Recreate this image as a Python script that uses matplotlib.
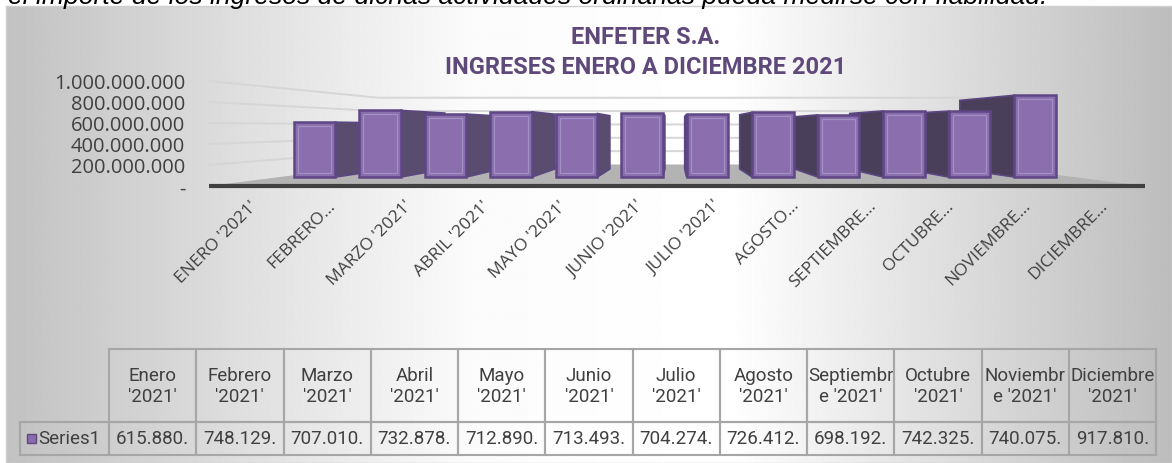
import numpy as np
import matplotlib
matplotlib.use("Agg")
import matplotlib.pyplot as plt
from matplotlib.patches import Polygon, Rectangle
from matplotlib.table import Table
from matplotlib import font_manager

# ---------------- data ----------------
axis_labels = ["ENERO '2021'", "FEBRERO...", "MARZO '2021'", "ABRIL '2021'",
               "MAYO '2021'", "JUNIO '2021'", "JULIO '2021'", "AGOSTO...",
               "SEPTIEMBRE...", "OCTUBRE...", "NOVIEMBRE...", "DICIEMBRE..."]
header_labels = ["Enero\n'2021'", "Febrero\n'2021'", "Marzo\n'2021'", "Abril\n'2021'",
                 "Mayo\n'2021'", "Junio\n'2021'", "Julio\n'2021'", "Agosto\n'2021'",
                 "Septiembr\ne '2021'", "Octubre\n'2021'", "Noviembr\ne '2021'",
                 "Diciembre\n'2021'"]
values = [615880000, 748129000, 707010000, 732878000, 712890000, 713493000,
          704274000, 726412000, 698192000, 742325000, 740075000, 917810000]
series_name = "Series1"
y_ticks = [0, 200000000, 400000000, 600000000, 800000000, 1000000000]
title_lines = ["ENFETER S.A.", "INGRESES ENERO A DICIEMBRE 2021"]
top_text = "el importe de los ingresos de dichas actividades ordinarias pueda medirse con fiabilidad."

# ---------------- fonts ----------------
avail = {f.name for f in font_manager.fontManager.ttflist}
NARROW = "Roboto" if "Roboto" in avail else "Liberation Sans"
LABEL_FONT = "Open Sans" if "Open Sans" in avail else "DejaVu Sans"

W, H, DPI = 1172, 464, 100
fig = plt.figure(figsize=(W / DPI, H / DPI), dpi=DPI)
fig.patch.set_facecolor("white")


def rect(x0, y0, x1, y1):
    return [x0 / W, 1 - y1 / H, (x1 - x0) / W, (y1 - y0) / H]


n = len(values)
YMAX = y_ticks[-1]

# ---------------- background ----------------
bg = fig.add_axes(rect(6, 7, 1172, 464))
xs = np.linspace(0, 1, 900)
g = np.interp(xs, [0, 0.40, 0.62, 1.0], [0.76, 0.985, 1.0, 0.74])
bg.imshow(np.tile(g, (10, 1)), cmap="gray", vmin=0, vmax=1, aspect="auto",
          extent=[0, 1, 0, 1], interpolation="bilinear")
bg.set_xlim(0, 1)
bg.set_ylim(0, 1)
bg.set_xticks([])
bg.set_yticks([])
for sp in bg.spines.values():
    sp.set_color("#d0d0d0")
    sp.set_linewidth(1.0)

# ---------------- geometry of pseudo-3D scene ----------------
CAT0, STEP = 314.5, 65.5          # px of first category on bar plane
BASE, TOP = 178.0, 89.0           # px of 0 and YMAX on bar plane
VPX, VPY = 675.0, 128.0           # vanishing point px
S_FRONT, S_BAR, S_WALL = 1.18, 0.84, 0.75

ax = fig.add_axes(rect(CAT0 - 0.5 * STEP, TOP, CAT0 + (n - 0.5) * STEP, BASE))
ax.set_xlim(-0.5, n - 0.5)
ax.set_ylim(0, YMAX)
ax.axis("off")

VX = (VPX - CAT0) / STEP
VY = (BASE - VPY) / (BASE - TOP) * YMAX


def proj(x, v, s):
    return (VX + s * (x - VX), VY + s * (v - VY))


xL = (280.0 - CAT0) / STEP
xR = (VPX + (1145.0 - VPX) / S_FRONT - CAT0) / STEP

# floor
floor = Polygon([proj(xL, 0, S_FRONT), proj(xR, 0, S_FRONT),
                 proj(xR, 0, S_WALL), proj(xL, 0, S_WALL)],
                closed=True, fc="#b3b3b3", ec="none", zorder=1, clip_on=False)
ax.add_patch(floor)
fx0, fy0 = proj(xL, 0, S_FRONT)
fx1, fy1 = proj(xR, 0, S_FRONT)
ax.plot([fx0, fx1], [fy0, fy1], color="#404040", lw=3.0, solid_capstyle="butt",
        zorder=1.5, clip_on=False)

# walls gridlines
for t in y_ticks[1:]:
    a = proj(xL, t, S_FRONT)
    b = proj(xL, t, S_WALL)
    c = proj(xR, t, S_WALL)
    ax.plot([a[0], b[0], c[0]], [a[1], b[1], c[1]], color="#d6d6d6", lw=1.4,
            zorder=0.5, clip_on=False)

# bars
bw = 0.64
for i, v in enumerate(values):
    x0, x1 = i - bw / 2, i + bw / 2
    if x1 < VX:
        xe = x1
        col = "#5a4c6e"
    elif x0 > VX:
        xe = x0
        col = "#4a3f5a"
    else:
        xe = None
    if xe is not None:
        side = Polygon([(xe, 0), (xe, v), proj(xe, v, S_BAR), proj(xe, 0, S_BAR)],
                       closed=True, fc=col, ec="#5a4680", lw=1.2, zorder=2,
                       clip_on=False)
        ax.add_patch(side)

for i, v in enumerate(values):
    x0 = i - bw / 2
    ax.add_patch(Rectangle((x0, 0), bw, v, fc="#8a6eae", ec="#5e4784", lw=1.8,
                           zorder=3, clip_on=False))
    dx = 4.0 / STEP
    dy = 4.0 / (BASE - TOP) * YMAX
    ax.add_patch(Rectangle((x0 + dx, dy), bw - 2 * dx, v - 2 * dy, fc="none",
                           ec="#a391c3", lw=0.9, zorder=3.2, clip_on=False))

# ---------------- front plane axis (labels) ----------------
fl = VPX + S_FRONT * (CAT0 - 0.5 * STEP - VPX)
fr = VPX + S_FRONT * (CAT0 + (n - 0.5) * STEP - VPX)
ft = VPY + S_FRONT * (TOP - VPY)
fb = VPY + S_FRONT * (BASE - VPY)
axf = fig.add_axes(rect(fl, ft, fr, fb))
axf.set_xlim(-0.5, n - 0.5)
axf.set_ylim(0, YMAX)
axf.patch.set_alpha(0)
for sp in axf.spines.values():
    sp.set_visible(False)
axf.set_yticks(y_ticks)
axf.set_yticklabels(["-" if t == 0 else f"{t:,}".replace(",", ".") for t in y_ticks],
                    fontfamily=LABEL_FONT)
axf.tick_params(axis="y", length=0, pad=18.5, labelsize=14.5, labelcolor="#404040")
axf.set_xticks(range(n))
axf.set_xticklabels(axis_labels, rotation=45, ha="right", rotation_mode="anchor",
                    fontfamily=LABEL_FONT)
axf.tick_params(axis="x", length=0, pad=8, labelsize=12.5, labelcolor="#404040")

# ---------------- titles ----------------
fig.text(646 / W, 1 - 38 / H, title_lines[0], ha="center", va="center",
         fontsize=17, fontweight="bold", color="#5f497a", family=NARROW)
fig.text(646 / W, 1 - 68 / H, title_lines[1], ha="center", va="center",
         fontsize=17, fontweight="bold", color="#5f497a", family=NARROW)

tt = fig.text(8 / W, 1 - 4 / H, top_text, ha="left", va="baseline", fontsize=10,
              style="italic", family="Liberation Sans", color="#000000")
fig.canvas.draw()
wpx = tt.get_window_extent().width
tt.set_fontsize(10 * (1042.0 / wpx))

# ---------------- data table ----------------
axt = fig.add_axes(rect(20, 350, 1156, 456))
axt.axis("off")
tab = Table(axt, bbox=[0, 0, 1, 1])
HDR_H, ROW_H, LAB_W, COL_W = 73.0, 33.0, 89.0, 87.25
EC = "#a6a6a6"
for j, h in enumerate(header_labels):
    tab.add_cell(0, j + 1, width=COL_W, height=HDR_H, text=h, loc="center",
                 facecolor="none", edgecolor=EC)
tab.add_cell(1, 0, width=LAB_W, height=ROW_H, text=series_name, loc="right",
             facecolor="none", edgecolor=EC)
for j, v in enumerate(values):
    tab.add_cell(1, j + 1, width=COL_W, height=ROW_H,
                 text=f"{v:,}".replace(",", ".")[:8], loc="center",
                 facecolor="none", edgecolor=EC)
tab.auto_set_font_size(False)
tab.set_fontsize(13.5)
for cell in tab.get_celld().values():
    cell.set_linewidth(1.5)
    cell.get_text().set_color("#404040")
    cell.get_text().set_fontfamily(NARROW)
    cell.get_text().set_linespacing(1.25)
axt.add_table(tab)
axt.add_patch(Rectangle(((27 - 20) / 1136, (456 - 444) / 106), 9 / 1136, 9 / 106,
                        transform=axt.transAxes, fc="#8a6bb0", ec="#5f497a", lw=1.0,
                        clip_on=False))

fig.savefig("out.png", dpi=DPI)
